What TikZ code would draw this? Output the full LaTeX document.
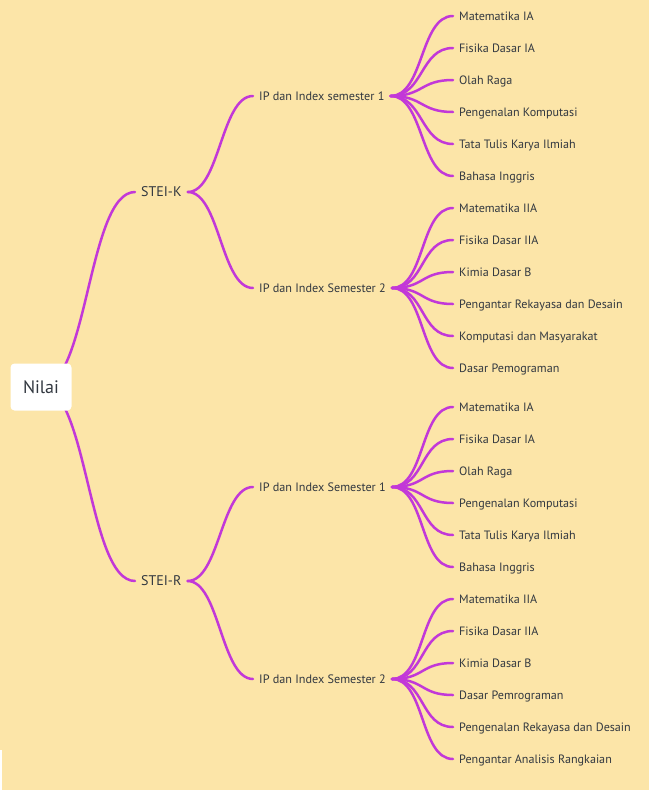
\documentclass[tikz,border=0pt]{standalone}
\usepackage{fontspec}
\setmainfont{PT Sans}
\usepackage{tikz}
\usetikzlibrary{positioning}
\usetikzlibrary{backgrounds}

\definecolor{paper}{RGB}{252,229,168}
\definecolor{branch}{RGB}{194,56,216}
\definecolor{ink}{RGB}{50,56,64}

\begin{document}
\begin{tikzpicture}[x=1pt,y=-1pt,text=ink,
	rootbox/.style={fill=white,rounded corners=4pt,minimum width=61pt,minimum height=47pt,font=\fontsize{18}{20}\selectfont},
	topic/.style={inner xsep=6pt,anchor=west,text height=9.8pt,text depth=0pt,font=\fontsize{14}{16}\selectfont},
	sub/.style={inner xsep=6pt,anchor=west,text height=8.6pt,text depth=0pt,font=\fontsize{12.2}{14}\selectfont},
	leaf/.style={inner xsep=6pt,anchor=west,text height=8.5pt,text depth=0pt,font=\fontsize{12.1}{14}\selectfont},
	link/.style={draw=branch,line width=2.5pt,line cap=round,out=0,in=180,min distance=#1,max distance=#1}]
	\useasboundingbox (0,0) rectangle (649,790);
	\begin{scope}[on background layer]
		\fill[paper] (0,0) rectangle (649,790);
		\fill[white] (0,750) rectangle (1.5,790);
	\end{scope}

	\node[rootbox] (n) at (41,387) {Nilai};
	\node[topic] (k) at (135,192) {STEI-K};
	\node[topic] (r) at (135,581) {STEI-R};

	\node[sub] (k1) at (253,96) {IP dan Index semester 1};
	\node[sub] (k2) at (253,288) {IP dan Index Semester 2};
	\node[sub] (r1) at (253,487) {IP dan Index Semester 1};
	\node[sub] (r2) at (253,679) {IP dan Index Semester 2};

	% STEI-K, semester 1
	\node[leaf] (k11) at (453,16) {Matematika IA};
	\node[leaf] (k12) at (453,48) {Fisika Dasar IA};
	\node[leaf] (k13) at (453,80) {Olah Raga};
	\node[leaf] (k14) at (453,112) {Pengenalan Komputasi};
	\node[leaf] (k15) at (453,144) {Tata Tulis Karya Ilmiah};
	\node[leaf] (k16) at (453,176) {Bahasa Inggris};
	% STEI-K, semester 2
	\node[leaf] (k21) at (453,208) {Matematika IIA};
	\node[leaf] (k22) at (453,240) {Fisika Dasar IIA};
	\node[leaf] (k23) at (453,272) {Kimia Dasar B};
	\node[leaf] (k24) at (453,304) {Pengantar Rekayasa dan Desain};
	\node[leaf] (k25) at (453,336) {Komputasi dan Masyarakat};
	\node[leaf] (k26) at (453,368) {Dasar Pemograman};
	% STEI-R, semester 1
	\node[leaf] (r11) at (453,407) {Matematika IA};
	\node[leaf] (r12) at (453,439) {Fisika Dasar IA};
	\node[leaf] (r13) at (453,471) {Olah Raga};
	\node[leaf] (r14) at (453,503) {Pengenalan Komputasi};
	\node[leaf] (r15) at (453,535) {Tata Tulis Karya Ilmiah};
	\node[leaf] (r16) at (453,567) {Bahasa Inggris};
	% STEI-R, semester 2
	\node[leaf] (r21) at (453,599) {Matematika IIA};
	\node[leaf] (r22) at (453,631) {Fisika Dasar IIA};
	\node[leaf] (r23) at (453,663) {Kimia Dasar B};
	\node[leaf] (r24) at (453,695) {Dasar Pemrograman};
	\node[leaf] (r25) at (453,727) {Pengenalan Rekayasa dan Desain};
	\node[leaf] (r26) at (453,759) {Pengantar Analisis Rangkaian};

	\begin{scope}[on background layer]
	\path 	(n.center)	edge[link=47pt]	(k.west)
				edge[link=47pt]	(r.west)
		(k.east)	edge[link=32pt]	(k1.west)
				edge[link=32pt]	(k2.west)
		(r.east)	edge[link=32pt]	(r1.west)
				edge[link=32pt]	(r2.west)
		(k1.east)	edge[link=33pt]	(k11.west)
				edge[link=33pt]	(k12.west)
				edge[link=33pt]	(k13.west)
				edge[link=33pt]	(k14.west)
				edge[link=33pt]	(k15.west)
				edge[link=33pt]	(k16.west)
		(k2.east)	edge[link=33pt]	(k21.west)
				edge[link=33pt]	(k22.west)
				edge[link=33pt]	(k23.west)
				edge[link=33pt]	(k24.west)
				edge[link=33pt]	(k25.west)
				edge[link=33pt]	(k26.west)
		(r1.east)	edge[link=33pt]	(r11.west)
				edge[link=33pt]	(r12.west)
				edge[link=33pt]	(r13.west)
				edge[link=33pt]	(r14.west)
				edge[link=33pt]	(r15.west)
				edge[link=33pt]	(r16.west)
		(r2.east)	edge[link=33pt]	(r21.west)
				edge[link=33pt]	(r22.west)
				edge[link=33pt]	(r23.west)
				edge[link=33pt]	(r24.west)
				edge[link=33pt]	(r25.west)
				edge[link=33pt]	(r26.west);
	\end{scope}
\end{tikzpicture}
\end{document}
